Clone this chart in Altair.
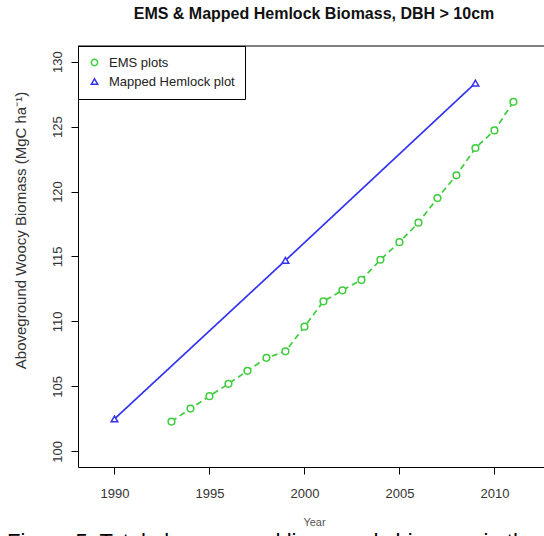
import altair as alt
import pandas as pd

# ---- data ----
ems_years = [1993, 1994, 1995, 1996, 1997, 1998, 1999, 2000, 2001, 2002,
             2003, 2004, 2005, 2006, 2007, 2008, 2009, 2010, 2011]
ems_biomass = [102.3, 103.3, 104.25, 105.2, 106.2, 107.2, 107.7, 109.6, 111.55, 112.4,
               113.2, 114.75, 116.1, 117.6, 119.5, 121.25, 123.35, 124.7, 126.9]
mapped_years = [1990, 1999, 2009]
mapped_biomass = [102.5, 114.7, 128.35]

series_names = ["EMS plots", "Mapped Hemlock plot"]
series_colors = ["#3ccc3c", "#3333f0"]
series_shapes = ["circle", "triangle-up"]
series_dash = [[6, 4], [1, 0]]
x_ticks = [1990, 1995, 2000, 2005, 2010]
y_ticks = [100, 105, 110, 115, 120, 125, 130]

chart_title = "EMS & Mapped Hemlock Biomass, DBH > 10cm"
y_title = "Aboveground Woocy Biomass (MgC ha\u207b\u00b9)"
x_title = "Year"
caption_text = "Figure 5. Total aboveground live woody biomass in the"

df = pd.concat([
    pd.DataFrame({"year": ems_years, "biomass": ems_biomass, "series": series_names[0]}),
    pd.DataFrame({"year": mapped_years, "biomass": mapped_biomass, "series": series_names[1]}),
], ignore_index=True)

W, H = 466, 421
FONT = "Liberation Sans"

x = alt.X("year:Q",
          scale=alt.Scale(domain=[1988.08, 2012.61], nice=False, zero=False),
          axis=alt.Axis(values=x_ticks, format="d", title=x_title, grid=False,
                        labelPadding=13, titleX=236, titleY=55,
                        titleBaseline="middle", titleAnchor="middle",
                        titleFontSize=11, titleFontWeight="normal", titleColor="#555"))
y = alt.Y("biomass:Q",
          scale=alt.Scale(domain=[98.8, 131.2], nice=False, zero=False),
          axis=alt.Axis(values=y_ticks, format="d", title=y_title, grid=False,
                        labelAngle=270, labelAlign="center", labelBaseline="middle",
                        labelPadding=14,
                        titleAngle=270, titleX=-58, titleY=184,
                        titleAlign="center", titleBaseline="middle",
                        titleFontSize=15, titleFontWeight="normal", titleColor="#333"))

legend = alt.Legend(title=None, orient="top-left", offset=0,
                    strokeColor="black", fillColor="white", padding=10,
                    labelFontSize=13, labelFont=FONT, labelColor="#222",
                    symbolSize=40, symbolStrokeWidth=1.5, symbolFillColor="white",
                    rowPadding=5, labelOffset=8, cornerRadius=0)

color_scale = alt.Scale(domain=series_names, range=series_colors)
shape_scale = alt.Scale(domain=series_names, range=series_shapes)

lines = alt.Chart(df).mark_line(strokeWidth=1.7).encode(
    x=x, y=y,
    color=alt.Color("series:N", scale=color_scale, legend=None),
    strokeDash=alt.StrokeDash("series:N", scale=alt.Scale(domain=series_names, range=series_dash), legend=None),
    order="year:Q",
)

# white disc under each marker so the line does not show inside it
under = alt.Chart(df).mark_point(filled=True, color="white", size=45, opacity=1).encode(
    x=x, y=y,
    shape=alt.Shape("series:N", scale=shape_scale, legend=None),
)

points = alt.Chart(df).mark_point(filled=False, strokeWidth=1.5, size=45, opacity=1).encode(
    x=x, y=y,
    color=alt.Color("series:N", scale=color_scale, legend=legend),
    shape=alt.Shape("series:N", scale=shape_scale, legend=legend),
)

top_border = alt.Chart(pd.DataFrame({"b": [0]})).mark_rule(color="black", strokeWidth=1).encode(
    x=alt.value(0), x2=alt.value(W), y=alt.value(0))

caption = alt.Chart(pd.DataFrame({"caption": [caption_text]})).mark_text(
    align="left", baseline="top", fontSize=22, font=FONT, color="black").encode(
    text="caption:N", x=alt.value(-71), y=alt.value(486))

chart = alt.layer(lines, under, points, top_border, caption).properties(
    width=W, height=H,
    title=alt.TitleParams(chart_title, font=FONT, fontSize=16, fontWeight="bold",
                          color="#111", anchor="middle", baseline="middle", offset=16, dx=3),
    padding={"left": 78, "top": 46, "right": 0, "bottom": 69},
    autosize="none",
    background="white",
).resolve_legend(color="independent", shape="independent").configure_view(stroke=None).configure_axis(
    domainColor="black", domainWidth=1, tickColor="black", tickSize=7,
    labelColor="#333", labelFont=FONT, labelFontSize=13, titleFont=FONT, grid=False,
)

chart.save("out.html", embed_options={"renderer": "svg", "actions": False})
